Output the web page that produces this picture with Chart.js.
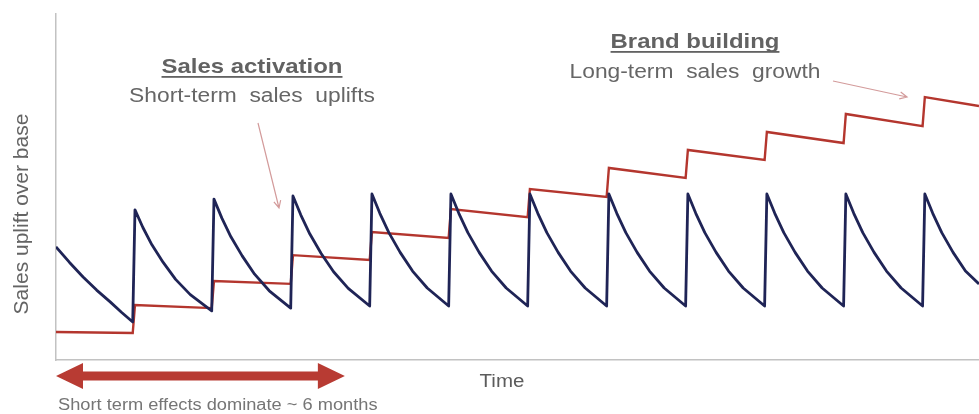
<!DOCTYPE html>
<html lang="en">
<head>
  <meta charset="UTF-8">
  <title>Sales activation vs brand building</title>
  <script src="https://cdn.jsdelivr.net/npm/chart.js"></script>
  <style>
    html, body { margin: 0; padding: 0; background: #fff; }
    #wrap { width: 979px; height: 414px; position: relative; }
  </style>
</head>
<body>
  <div id="wrap">
    <canvas id="upliftChart"></canvas>
  </div>

  <script>
    // Time in weeks, uplift in % of base
    const activationWeeks = [
      0, 1.2, 2.4, 3.6, 4.8, 5.8, 6.8,
      7.0, 7.7, 8.5, 9.5, 10.6, 11.9, 13.8,
      14.0, 14.7, 15.5, 16.5, 17.6, 18.9, 20.8,
      21.0, 21.7, 22.5, 23.5, 24.6, 25.9, 27.8,
      28.0, 28.7, 29.5, 30.5, 31.6, 32.9, 34.8,
      35.0, 35.7, 36.5, 37.5, 38.6, 39.9, 41.8,
      42.0, 42.7, 43.5, 44.5, 45.6, 46.9, 48.8,
      49.0, 49.7, 50.5, 51.5, 52.6, 53.9, 55.8,
      56.0, 56.7, 57.5, 58.5, 59.6, 60.9, 62.8,
      63.0, 63.7, 64.5, 65.5, 66.6, 67.9, 69.8,
      70.0, 70.7, 71.5, 72.5, 73.6, 74.9, 76.8,
      77.0, 77.7, 78.5, 79.5, 80.6, 81.8
    ];
    const activationUplift = [
      32.7, 28.2, 24.0, 20.2, 16.8, 13.8, 11.0,
      43.4, 38.3, 33.3, 28.2, 23.3, 18.9, 14.2,
      46.5, 41.0, 35.6, 30.1, 24.8, 20.0, 15.0,
      47.4, 41.9, 36.4, 30.8, 25.5, 20.7, 15.6,
      48.0, 42.4, 36.8, 31.1, 25.7, 20.8, 15.6,
      48.0, 42.4, 36.8, 31.1, 25.7, 20.8, 15.6,
      48.0, 42.4, 36.8, 31.1, 25.7, 20.8, 15.6,
      48.0, 42.4, 36.8, 31.1, 25.7, 20.8, 15.6,
      48.0, 42.4, 36.8, 31.1, 25.7, 20.8, 15.6,
      48.0, 42.4, 36.8, 31.1, 25.7, 20.8, 15.6,
      48.0, 42.4, 36.8, 31.1, 25.7, 20.8, 15.6,
      48.0, 42.4, 36.8, 31.1, 25.7, 22.0
    ];

    const brandWeeks = [0, 6.8, 7.0, 13.8, 14.0, 20.8, 21.0, 27.8, 28.0, 34.8, 35.0, 41.8,
      42.0, 48.8, 49.0, 55.8, 56.0, 62.8, 63.0, 69.8, 70.0, 76.8, 77.0, 81.8];
    const brandUplift = [8.1, 7.8, 15.9, 15.0, 22.8, 22.0, 30.3, 28.9, 37.0, 35.3, 43.6, 41.3,
      49.4, 47.1, 55.5, 52.6, 60.7, 57.8, 65.9, 62.7, 71.1, 67.6, 76.0, 73.4];

    const shortTermSpan = [0, 25.6]; // weeks, ~6 months

    const toPoints = (xs, ys) => xs.map((x, i) => ({ x: x, y: ys[i] }));

    const FONT = '"Liberation Sans", Arial, sans-serif';
    const STRETCH = 1.14;

    function label(ctx, text, cx, by, size, bold, color, underline) {
      ctx.save();
      ctx.translate(cx, by);
      ctx.scale(STRETCH, 1);
      ctx.font = (bold ? 'bold ' : '') + size + 'px ' + FONT;
      ctx.textAlign = 'center';
      ctx.textBaseline = 'alphabetic';
      ctx.fillStyle = color;
      ctx.fillText(text, 0, 0);
      if (underline) {
        const w = ctx.measureText(text).width;
        ctx.fillRect(-w / 2, 3, w, 1.8);
      }
      ctx.restore();
    }

    function thinArrow(ctx, x1, y1, x2, y2) {
      const a = Math.atan2(y2 - y1, x2 - x1);
      ctx.save();
      ctx.strokeStyle = '#d39b9b';
      ctx.lineWidth = 1.2;
      ctx.beginPath();
      ctx.moveTo(x1, y1);
      ctx.lineTo(x2, y2);
      ctx.moveTo(x2 - 8 * Math.cos(a - 0.45), y2 - 8 * Math.sin(a - 0.45));
      ctx.lineTo(x2, y2);
      ctx.lineTo(x2 - 8 * Math.cos(a + 0.45), y2 - 8 * Math.sin(a + 0.45));
      ctx.stroke();
      ctx.restore();
    }

    // titles, callout arrows and the red span arrow under the axis
    const notes = {
      id: 'notes',
      afterDraw(chart) {
        const { ctx, chartArea, scales } = chart;
        const x = scales.x;

        label(ctx, 'Sales activation', 252, 73, 21, true, '#626262', true);
        label(ctx, 'Short-term  sales  uplifts', 252, 102, 20, false, '#666', false);
        label(ctx, 'Brand building', 695, 48, 21, true, '#626262', true);
        label(ctx, 'Long-term  sales  growth', 695, 78, 20, false, '#666', false);
        label(ctx, 'Time', 502, 387, 18, false, '#5c5c5c', false);

        thinArrow(ctx, 258, 123, 279, 208);
        thinArrow(ctx, 833, 81, 907, 97);

        // y axis title
        ctx.save();
        ctx.translate(22, 214);
        ctx.rotate(-Math.PI / 2);
        ctx.font = '21px ' + FONT;
        ctx.textAlign = 'center';
        ctx.textBaseline = 'middle';
        ctx.fillStyle = '#646464';
        ctx.fillText('Sales uplift over base', 0, 0);
        ctx.restore();

        // double headed arrow
        const x0 = x.getPixelForValue(shortTermSpan[0]);
        const x1 = x.getPixelForValue(shortTermSpan[1]);
        const cy = chartArea.bottom + 16;
        const head = 27, hh = 13, sh = 4.5;
        ctx.save();
        ctx.fillStyle = '#b83b33';
        ctx.beginPath();
        ctx.moveTo(x0, cy);
        ctx.lineTo(x0 + head, cy - hh);
        ctx.lineTo(x0 + head, cy - sh);
        ctx.lineTo(x1 - head, cy - sh);
        ctx.lineTo(x1 - head, cy - hh);
        ctx.lineTo(x1, cy);
        ctx.lineTo(x1 - head, cy + hh);
        ctx.lineTo(x1 - head, cy + sh);
        ctx.lineTo(x0 + head, cy + sh);
        ctx.lineTo(x0 + head, cy + hh);
        ctx.closePath();
        ctx.fill();
        ctx.restore();

        ctx.save();
        ctx.translate(x0 + 2, 410);
        ctx.scale(STRETCH, 1);
        ctx.font = '16px ' + FONT;
        ctx.textAlign = 'left';
        ctx.fillStyle = '#757575';
        ctx.fillText('Short term effects dominate ~ 6 months', 0, 0);
        ctx.restore();
      }
    };

    new Chart(document.getElementById('upliftChart'), {
      type: 'line',
      data: {
        datasets: [
          {
            label: 'Sales activation',
            data: toPoints(activationWeeks, activationUplift),
            borderColor: '#1f2456',
            borderWidth: 2.8,
            tension: 0,
            pointRadius: 0,
            borderJoinStyle: 'round'
          },
          {
            label: 'Brand building',
            data: toPoints(brandWeeks, brandUplift),
            borderColor: '#b4362e',
            borderWidth: 2.4,
            tension: 0,
            pointRadius: 0
          }
        ]
      },
      options: {
        responsive: true,
        maintainAspectRatio: false,
        animation: false,
        layout: { padding: { left: 56, top: 14, right: 0, bottom: 54 } },
        plugins: {
          legend: { display: false },
          tooltip: { enabled: false }
        },
        scales: {
          x: {
            type: 'linear',
            min: 0,
            max: 81.8,
            ticks: { display: false },
            grid: { display: false, drawTicks: false },
            border: { color: '#c2c2c2', width: 1.5 }
          },
          y: {
            min: 0,
            max: 100,
            ticks: { display: false },
            grid: { display: false, drawTicks: false },
            border: { color: '#c2c2c2', width: 1.5 }
          }
        }
      },
      plugins: [notes]
    });
  </script>
</body>
</html>
